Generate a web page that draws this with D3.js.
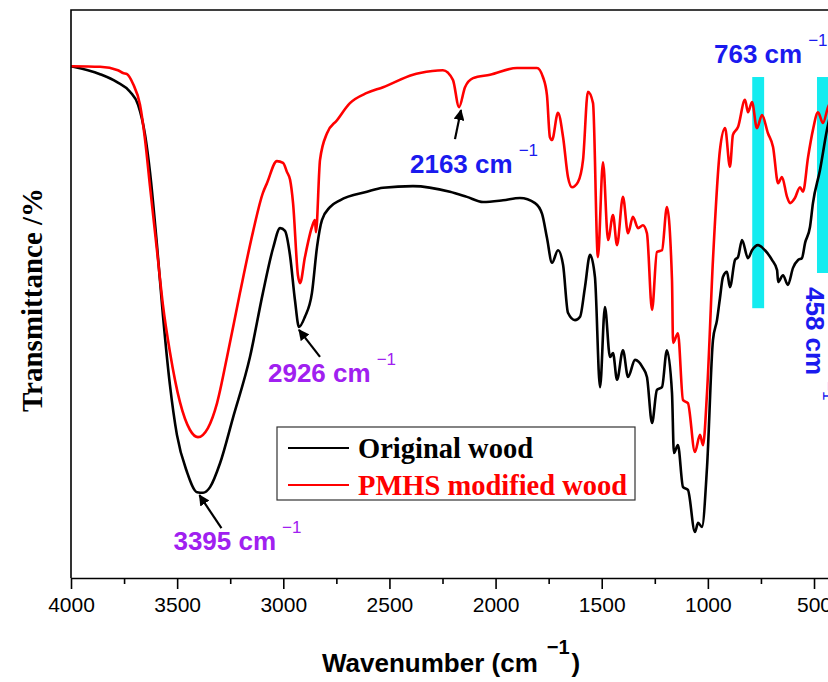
<!DOCTYPE html>
<html>
<head>
<meta charset="utf-8">
<script src="https://cdn.jsdelivr.net/npm/d3@7"></script>
<style>
  body { margin: 0; background: #fff; }
  svg { display: block; }
</style>
</head>
<body>
<svg id="ftir" width="828" height="682"></svg>
<script>
// spectra: [wavenumber cm-1, transmittance (arb. %)]
var originalWood = [
  [4000, 90.1], [3863, 88.7], [3783, 87.3], [3722, 85.6], [3684, 83.3], [3651, 78.0],
  [3628, 71.5], [3595, 58.6], [3567, 46.3], [3534, 34.0], [3501, 25.2], [3454, 18.7],
  [3406, 15.1], [3378, 15.0], [3345, 16.0], [3298, 20.2], [3237, 28.2], [3157, 38.9],
  [3096, 50.2], [3048, 58.1], [3015, 61.6], [2992, 61.1], [2968, 56.7], [2945, 48.9],
  [2926, 44.2], [2898, 46.0], [2865, 50.2], [2841, 58.3], [2818, 63.0], [2780, 65.3],
  [2733, 66.5], [2606, 68.0], [2530, 68.7], [2389, 69.0], [2215, 68.0], [2135, 67.1],
  [2059, 66.2], [1965, 66.5], [1885, 66.9], [1814, 66.0], [1781, 64.1], [1758, 59.9],
  [1734, 55.5], [1706, 57.7], [1682, 55.1], [1659, 46.7], [1626, 45.4], [1602, 46.0],
  [1579, 51.2], [1555, 56.9], [1532, 53.0], [1508, 33.6], [1485, 47.7], [1461, 38.9],
  [1447, 39.6], [1428, 34.9], [1400, 40.1], [1376, 35.4], [1343, 38.4], [1306, 37.0],
  [1287, 35.4], [1263, 27.3], [1240, 33.1], [1216, 33.6], [1193, 40.1], [1169, 32.6],
  [1160, 22.0], [1141, 23.4], [1117, 16.0], [1094, 15.5], [1061, 8.1], [1046, 9.7],
  [1028, 9.0], [1004, 19.5], [976, 41.9], [957, 45.4], [943, 49.3], [929, 53.0],
  [910, 53.9], [896, 51.2], [872, 56.0], [858, 56.5], [839, 59.5], [811, 56.3],
  [792, 57.7], [764, 58.6], [731, 57.7], [698, 56.0], [674, 54.2], [669, 52.1],
  [646, 53.3], [623, 51.6], [599, 54.6], [575, 56.0], [557, 56.3], [542, 59.0],
  [519, 61.8], [505, 66.0], [472, 71.8], [439, 78.9], [401, 85.0]
];

var modifiedWood = [
  [4000, 90.1], [3863, 90.0], [3779, 89.4], [3755, 88.9], [3736, 88.7], [3708, 87.0],
  [3675, 83.3], [3651, 77.1], [3628, 69.0], [3595, 57.7], [3567, 48.1], [3534, 39.8],
  [3487, 31.0], [3440, 26.1], [3402, 24.8], [3355, 26.4], [3312, 30.8], [3265, 38.9],
  [3204, 50.2], [3143, 60.9], [3096, 67.8], [3077, 69.5], [3030, 73.4], [3001, 73.1],
  [2983, 71.5], [2968, 70.1], [2954, 66.0], [2931, 53.3], [2921, 51.9], [2898, 56.5],
  [2865, 61.8], [2851, 63.0], [2846, 60.9], [2827, 73.6], [2794, 78.3], [2747, 80.6],
  [2686, 83.6], [2606, 85.4], [2530, 86.4], [2389, 88.6], [2356, 88.9], [2248, 89.4],
  [2201, 87.7], [2172, 82.9], [2144, 86.4], [2106, 88.0], [2026, 88.6], [1899, 89.8],
  [1805, 89.8], [1777, 88.2], [1758, 85.0], [1744, 77.6], [1734, 77.1], [1706, 81.9],
  [1682, 77.6], [1659, 70.6], [1640, 68.8], [1612, 69.7], [1588, 73.6], [1565, 85.6],
  [1541, 83.6], [1518, 56.5], [1494, 73.2], [1470, 59.5], [1447, 63.9], [1428, 58.6],
  [1400, 67.1], [1376, 60.7], [1353, 63.6], [1329, 61.6], [1306, 62.1], [1287, 60.7],
  [1263, 47.2], [1240, 57.4], [1216, 57.7], [1193, 65.3], [1169, 52.5], [1164, 41.4],
  [1141, 43.1], [1117, 31.3], [1094, 30.8], [1061, 22.2], [1037, 25.2], [1023, 23.4],
  [1004, 32.6], [976, 56.0], [943, 75.4], [919, 79.2], [896, 72.4], [882, 78.0],
  [858, 79.4], [825, 84.2], [811, 82.0], [792, 83.8], [769, 79.2], [745, 81.5],
  [717, 78.3], [693, 75.9], [669, 69.5], [651, 70.6], [627, 67.1], [613, 66.0],
  [590, 66.9], [566, 68.8], [552, 68.0], [528, 74.1], [505, 78.9], [481, 82.0],
  [458, 80.1], [434, 82.9], [401, 85.0]
];

var seriesNames = ["Original wood", "PMHS modified wood"];
var seriesColors = ["#000000", "#ff0000"];
var majorTicks = [4000, 3500, 3000, 2500, 2000, 1500, 1000, 500];
var minorTicks = [3750, 3250, 2750, 2250, 1750, 1250, 750];

// arrowed peak labels: wavenumber, which series, label colour
var peakLabels = [
  { wn: 3395, series: 0, color: "#a020f0" },
  { wn: 2926, series: 0, color: "#a020f0" },
  { wn: 2163, series: 1, color: "#1a1aee" }
];
// highlighted bands: centre wavenumber, band top and bottom (transmittance)
var bandCentres = [763, 458];
var bandTops = [88.2, 88.2];
var bandBottoms = [47.5, 53.7];
var bandHalfWidth = 28;

var svg = d3.select("#ftir"),
  margin = { top: 10, left: 71, bottom: 104 },
  height = +svg.attr("height") - margin.bottom;

var x = d3.scaleLinear().domain([4000, 400]).range([margin.left, margin.left + 3600 * 0.21229]);
var y = d3.scaleLinear().domain([0, 100]).range([height, margin.top]);

// cyan bands sit behind the curves
svg.selectAll(".band")
  .data(bandCentres)
  .enter().append("rect")
  .attr("class", "band")
  .attr("x", (d) => x(d + bandHalfWidth))
  .attr("width", (d) => x(d - bandHalfWidth) - x(d + bandHalfWidth))
  .attr("y", (d, i) => y(bandTops[i]))
  .attr("height", (d, i) => y(bandBottoms[i]) - y(bandTops[i]))
  .style("fill", "#14ecf0");

var line = d3.line()
  .x((d) => x(d[0]))
  .y((d) => y(d[1]))
  .curve(d3.curveMonotoneX);

[originalWood, modifiedWood].forEach((data, i) => {
  svg.append("path")
    .datum(data)
    .attr("d", line)
    .style("fill", "none")
    .style("stroke", seriesColors[i])
    .style("stroke-width", "2.6px")
    .style("stroke-linejoin", "round");
});

// frame: left and top edges
svg.append("path")
  .attr("d", `M${x(4000)},${y(0)}V${y(100)}H${x(400)}V${y(0)}`)
  .style("fill", "none")
  .style("stroke", "#000")
  .style("stroke-width", "1.6px");

svg.append("g")
  .attr("transform", `translate(0,${height})`)
  .call(d3.axisBottom(x).tickValues(minorTicks).tickSize(6).tickFormat(""))
  .call((g) => g.select(".domain").remove())
  .selectAll("line").style("stroke-width", "1.6px");

var xAxis = svg.append("g")
  .attr("transform", `translate(0,${height})`)
  .call(d3.axisBottom(x).tickValues(majorTicks).tickFormat(d3.format("d"))
    .tickSize(11).tickSizeOuter(0).tickPadding(8));
xAxis.select(".domain").style("stroke-width", "1.6px");
xAxis.selectAll("line").style("stroke-width", "1.6px");
xAxis.selectAll("text")
  .style("font-family", "'Liberation Sans', Arial, sans-serif")
  .style("font-size", "21px")
  .style("fill", "#000");

// axis titles
var xTitle = svg.append("text")
  .attr("x", 322)
  .attr("y", 672)
  .style("font-family", "'Liberation Sans', Arial, sans-serif")
  .style("font-weight", "bold")
  .style("font-size", "26px");
xTitle.append("tspan").text("Wavenumber (cm");
xTitle.append("tspan").attr("dx", 9).attr("dy", -18).style("font-size", "20px").text("\u22121");
xTitle.append("tspan").attr("dx", 2).attr("dy", 18).text(")");

svg.append("text")
  .attr("transform", "translate(42,300) rotate(-90)")
  .attr("text-anchor", "middle")
  .style("font-family", "'Liberation Serif', 'Times New Roman', serif")
  .style("font-weight", "bold")
  .style("font-size", "29px")
  .text("Transmittance /%");

// "xxxx cm-1" label with a gap before the superscript
function cmLabel(g, px, py, value, color) {
  var t = g.append("text")
    .attr("x", px)
    .attr("y", py)
    .style("font-family", "'Liberation Sans', Arial, sans-serif")
    .style("font-weight", "bold")
    .style("font-size", "26px")
    .style("fill", color);
  t.append("tspan").text(value + " cm");
  t.append("tspan")
    .attr("dx", 6).attr("dy", -17)
    .style("font-weight", "normal")
    .style("font-size", "17px")
    .text("\u22121");
  return t;
}

svg.append("defs").append("marker")
  .attr("id", "head")
  .attr("viewBox", "0 0 10 10")
  .attr("refX", 9).attr("refY", 5)
  .attr("markerWidth", 5).attr("markerHeight", 5)
  .attr("orient", "auto")
  .append("path")
  .attr("d", "M0,0L10,5L0,10z")
  .style("fill", "#000");

// label placement relative to the curve point: arrow tail offset, text origin offset
var labelOffsets = [
  { tail: [22, 33], text: [-26, 55] },
  { tail: [21, 27], text: [-31, 52] },
  { tail: [-6, 29], text: [-51, 63] }
];

peakLabels.forEach((p, i) => {
  var data = p.series === 0 ? originalWood : modifiedWood;
  var pt = data.reduce((a, b) => (Math.abs(b[0] - p.wn) < Math.abs(a[0] - p.wn) ? b : a));
  var px = x(p.wn), py = y(pt[1]) + 3;
  var o = labelOffsets[i];
  svg.append("line")
    .attr("x1", px + o.tail[0]).attr("y1", py + o.tail[1])
    .attr("x2", px).attr("y2", py)
    .style("stroke", "#000")
    .style("stroke-width", "2.2px")
    .attr("marker-end", "url(#head)");
  cmLabel(svg, px + o.text[0], py + o.text[1], p.wn, p.color);
});

// band labels
cmLabel(svg, 714, 63, bandCentres[0], "#1a1aee");
cmLabel(svg.append("g").attr("transform", "translate(806,287) rotate(90)"), 0, 0, bandCentres[1], "#1a1aee");

// legend
var legend = svg.append("g").attr("transform", "translate(277,427)");
legend.append("rect")
  .attr("width", 358).attr("height", 73)
  .style("fill", "#fff")
  .style("stroke", "#333")
  .style("stroke-width", "1.2px");
seriesNames.forEach((name, i) => {
  legend.append("line")
    .attr("x1", 11).attr("x2", 72)
    .attr("y1", 21 + i * 37).attr("y2", 21 + i * 37)
    .style("stroke", seriesColors[i])
    .style("stroke-width", "2.2px");
  legend.append("text")
    .attr("x", 81).attr("y", 31 + i * 37)
    .style("font-family", "'Liberation Serif', 'Times New Roman', serif")
    .style("font-weight", "bold")
    .style("font-size", "28.5px")
    .style("fill", seriesColors[i])
    .text(name);
});
</script>
</body>
</html>
